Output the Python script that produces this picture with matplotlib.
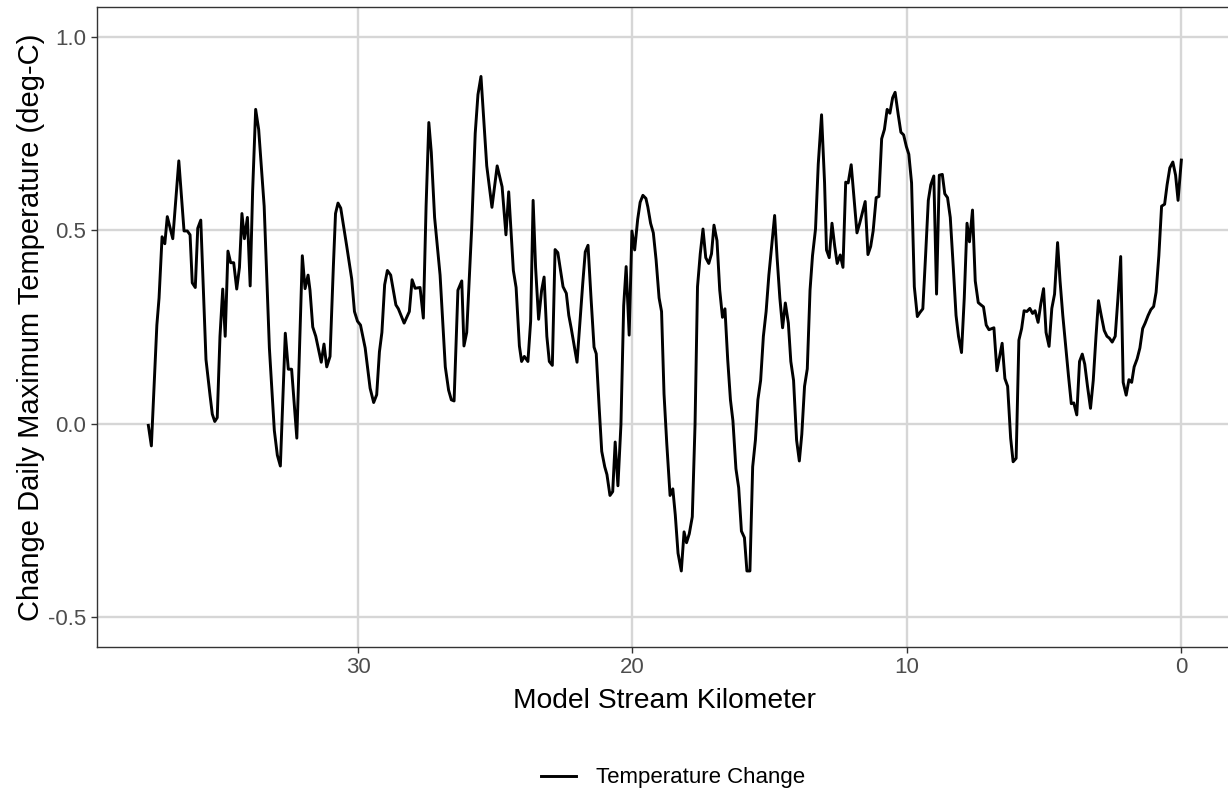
import numpy as np
import matplotlib
matplotlib.use("Agg")
import matplotlib.pyplot as plt

# stream kilometer (upstream -> downstream) and change in daily max temperature
km = [37.64, 37.53, 37.33, 37.25, 37.14, 37.04, 36.95, 36.75, 36.53, 36.34,
      36.22, 36.12, 36.04, 35.93, 35.84, 35.73, 35.54, 35.39, 35.31, 35.22,
      35.13, 35.03, 34.93, 34.84, 34.74, 34.64, 34.53, 34.42, 34.32, 34.23,
      34.14, 34.03, 33.93, 33.84, 33.73, 33.62, 33.42, 33.23, 33.05, 32.94,
      32.83, 32.65, 32.54, 32.42, 32.23, 32.03, 31.93, 31.82, 31.75, 31.65,
      31.54, 31.34, 31.24, 31.14, 31.02, 30.90, 30.82, 30.73, 30.63, 30.41,
      30.23, 30.13, 30.02, 29.91, 29.74, 29.56, 29.43, 29.32, 29.22, 29.13,
      29.03, 28.93, 28.81, 28.62, 28.53, 28.32, 28.13, 28.03, 27.92, 27.74,
      27.62, 27.52, 27.42, 27.33, 27.21, 27.01, 26.82, 26.70, 26.60, 26.50,
      26.36, 26.22, 26.14, 26.04, 25.86, 25.73, 25.63, 25.52, 25.31, 25.12,
      24.93, 24.75, 24.61, 24.51, 24.34, 24.24, 24.12, 24.04, 23.94, 23.81,
      23.71, 23.62, 23.53, 23.42, 23.31, 23.22, 23.12, 23.03, 22.92, 22.82,
      22.72, 22.53, 22.41, 22.32, 22.23, 22.02, 21.81, 21.72, 21.62, 21.51,
      21.40, 21.32, 21.21, 21.12, 21.01, 20.93, 20.82, 20.72, 20.63, 20.53,
      20.42, 20.32, 20.23, 20.12, 20.02, 19.92, 19.81, 19.72, 19.62, 19.51,
      19.44, 19.34, 19.24, 19.14, 19.03, 18.94, 18.85, 18.75, 18.63, 18.53,
      18.44, 18.34, 18.22, 18.12, 18.03, 17.93, 17.82, 17.72, 17.63, 17.53,
      17.43, 17.33, 17.22, 17.12, 17.03, 16.92, 16.82, 16.72, 16.63, 16.53,
      16.43, 16.34, 16.23, 16.13, 16.03, 15.92, 15.83, 15.72, 15.62, 15.52,
      15.43, 15.33, 15.23, 15.13, 15.03, 14.82, 14.73, 14.63, 14.53, 14.43,
      14.32, 14.23, 14.13, 14.02, 13.92, 13.83, 13.73, 13.63, 13.53, 13.44,
      13.33, 13.23, 13.11, 13.00, 12.93, 12.83, 12.73, 12.63, 12.54, 12.43,
      12.33, 12.23, 12.14, 12.03, 11.82, 11.72, 11.52, 11.42, 11.32, 11.23,
      11.12, 11.02, 10.92, 10.82, 10.72, 10.62, 10.52, 10.43, 10.32, 10.22,
      10.12, 10.02, 9.93, 9.83, 9.73, 9.62, 9.53, 9.42, 9.32, 9.22,
      9.13, 9.02, 8.92, 8.82, 8.71, 8.62, 8.52, 8.42, 8.31, 8.21,
      8.12, 8.01, 7.91, 7.81, 7.72, 7.61, 7.51, 7.40, 7.30, 7.21,
      7.11, 7.01, 6.83, 6.72, 6.53, 6.43, 6.33, 6.22, 6.13, 6.02,
      5.92, 5.82, 5.73, 5.63, 5.52, 5.42, 5.33, 5.22, 5.12, 5.02,
      4.93, 4.82, 4.72, 4.62, 4.51, 4.42, 4.32, 4.21, 4.11, 4.01,
      3.92, 3.81, 3.71, 3.61, 3.52, 3.42, 3.31, 3.21, 3.11, 3.02,
      2.92, 2.81, 2.71, 2.62, 2.52, 2.41, 2.31, 2.21, 2.12, 2.01,
      1.91, 1.81, 1.72, 1.61, 1.51, 1.41, 1.32, 1.21, 1.11, 1.01,
      0.92, 0.82, 0.72, 0.61, 0.52, 0.42, 0.31, 0.21, 0.12, 0.00]

temp_change = [-0.004, -0.057, 0.255, 0.325, 0.483, 0.465, 0.535, 0.478, 0.679, 0.498,
               0.498, 0.488, 0.364, 0.352, 0.505, 0.526, 0.166, 0.072, 0.025, 0.006,
               0.016, 0.226, 0.348, 0.226, 0.446, 0.416, 0.416, 0.348, 0.404, 0.543,
               0.478, 0.533, 0.356, 0.602, 0.812, 0.760, 0.562, 0.196, -0.017, -0.081,
               -0.109, 0.234, 0.141, 0.141, -0.037, 0.434, 0.349, 0.384, 0.345, 0.250,
               0.226, 0.159, 0.206, 0.147, 0.174, 0.404, 0.543, 0.570, 0.557, 0.458,
               0.374, 0.290, 0.265, 0.255, 0.196, 0.092, 0.055, 0.075, 0.186, 0.236,
               0.359, 0.396, 0.384, 0.307, 0.297, 0.260, 0.290, 0.372, 0.350, 0.352,
               0.273, 0.562, 0.778, 0.701, 0.533, 0.384, 0.147, 0.087, 0.062, 0.059,
               0.345, 0.369, 0.201, 0.236, 0.503, 0.750, 0.850, 0.897, 0.666, 0.559,
               0.666, 0.612, 0.488, 0.599, 0.396, 0.352, 0.201, 0.161, 0.174, 0.161,
               0.265, 0.577, 0.404, 0.270, 0.345, 0.379, 0.226, 0.161, 0.151, 0.450,
               0.442, 0.354, 0.337, 0.280, 0.246, 0.159, 0.364, 0.444, 0.461, 0.325,
               0.198, 0.181, 0.038, -0.071, -0.111, -0.131, -0.185, -0.175, -0.047, -0.160,
               -0.002, 0.305, 0.406, 0.229, 0.498, 0.449, 0.528, 0.572, 0.590, 0.582,
               0.560, 0.518, 0.493, 0.424, 0.325, 0.290, 0.077, -0.051, -0.185, -0.168,
               -0.235, -0.334, -0.380, -0.279, -0.307, -0.284, -0.240, -0.002, 0.354, 0.439,
               0.503, 0.429, 0.414, 0.439, 0.513, 0.473, 0.345, 0.275, 0.297, 0.166,
               0.062, 0.008, -0.116, -0.165, -0.277, -0.294, -0.380, -0.380, -0.111, -0.042,
               0.062, 0.112, 0.226, 0.290, 0.384, 0.538, 0.429, 0.325, 0.248, 0.312,
               0.260, 0.161, 0.112, -0.042, -0.096, -0.027, 0.097, 0.142, 0.345, 0.434,
               0.503, 0.671, 0.798, 0.622, 0.449, 0.429, 0.518, 0.458, 0.414, 0.436,
               0.404, 0.624, 0.622, 0.669, 0.493, 0.518, 0.574, 0.437, 0.458, 0.498,
               0.584, 0.587, 0.736, 0.760, 0.812, 0.802, 0.842, 0.856, 0.800, 0.753,
               0.746, 0.716, 0.696, 0.622, 0.354, 0.277, 0.287, 0.297, 0.434, 0.577,
               0.617, 0.640, 0.335, 0.642, 0.644, 0.594, 0.584, 0.533, 0.404, 0.280,
               0.226, 0.184, 0.325, 0.518, 0.470, 0.552, 0.369, 0.313, 0.307, 0.302,
               0.255, 0.243, 0.248, 0.137, 0.208, 0.117, 0.097, -0.037, -0.098, -0.089,
               0.216, 0.246, 0.292, 0.290, 0.298, 0.285, 0.292, 0.262, 0.310, 0.349,
               0.236, 0.200, 0.298, 0.335, 0.468, 0.369, 0.280, 0.196, 0.122, 0.052,
               0.054, 0.023, 0.161, 0.180, 0.154, 0.097, 0.040, 0.112, 0.226, 0.318,
               0.280, 0.241, 0.226, 0.221, 0.211, 0.226, 0.325, 0.432, 0.107, 0.074,
               0.114, 0.107, 0.147, 0.168, 0.196, 0.246, 0.260, 0.280, 0.295, 0.303,
               0.340, 0.434, 0.562, 0.567, 0.617, 0.661, 0.676, 0.642, 0.577, 0.681]

x_ticks = [30, 20, 10, 0]
y_ticks = [-0.5, 0.0, 0.5, 1.0]
y_tick_labels = ["-0.5", "0.0", "0.5", "1.0"]

plt.rcParams['font.family'] = ['Liberation Sans', 'DejaVu Sans']
plt.rcParams['axes.unicode_minus'] = False

fig = plt.figure(figsize=(12.28, 7.89), dpi=100)
# panel runs past the right edge of the picture, like the cropped original
ax = fig.add_axes([96.7 / 1228, 1 - 646.5 / 789, (1233 - 96.7) / 1228, (646.5 - 7.5) / 789])

line, = ax.plot(km, temp_change, color='black', lw=2.1, solid_joinstyle='round',
                label='Temperature Change', zorder=3)

# ggplot style 5% expansion, reversed x
xr = max(km) - min(km)
ax.set_xlim(max(km) + 0.05 * xr, min(km) - 0.05 * xr)
ax.set_ylim(-0.5 - 0.075, 1.0 + 0.075)

ax.set_xticks(x_ticks)
ax.set_xticklabels([str(t) for t in x_ticks])
ax.set_yticks(y_ticks)
ax.set_yticklabels(y_tick_labels)

ax.grid(True, color='#d6d6d6', lw=1.7)
ax.set_axisbelow(True)
for side in ['left', 'bottom', 'top']:
    ax.spines[side].set_color('#333333')
    ax.spines[side].set_linewidth(1.0)
ax.spines['right'].set_visible(False)

ax.tick_params(axis='both', length=4, width=1.0, color='#333333',
               labelcolor='#4d4d4d', labelsize=16, pad=3.5)

ax.set_xlabel('Model Stream Kilometer', fontsize=20.3, labelpad=7)
ax.set_ylabel('Change Daily Maximum Temperature (deg-C)', fontsize=21, labelpad=2)

fig.legend(handles=[line], loc='center', bbox_to_anchor=(673 / 1228, 1 - 778 / 789),
           frameon=False, fontsize=16, handlelength=1.6, handletextpad=0.9)

fig.savefig('out.png', dpi=100)
